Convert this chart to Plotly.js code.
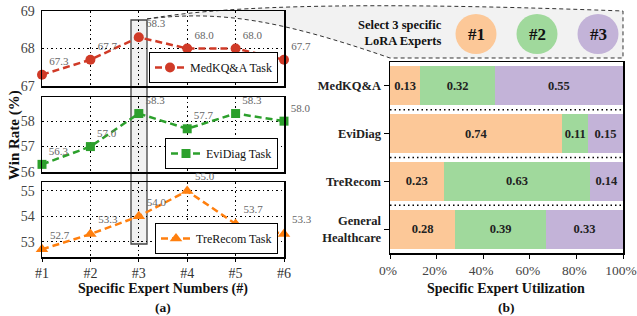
<!DOCTYPE html>
<html><head><meta charset="utf-8">
<script src="https://cdn.plot.ly/plotly-3.0.1.min.js"></script>
<style>html,body{margin:0;padding:0;background:#fff}#chart{width:637px;height:316px}</style>
</head><body><div id="chart"></div>
<script>
// ---- data ----
const experts = ['#1', '#2', '#3', '#4', '#5', '#6'];
const medkqa = [67.3, 67.7, 68.3, 68.0, 68.0, 67.7];
const evidiag = [56.3, 57.0, 58.3, 57.7, 58.3, 58.0];
const trerecom = [52.7, 53.3, 54.0, 55.0, 53.7, 53.3];
const tasks = ['MedKQ&A', 'EviDiag', 'TreRecom', 'General<br>Healthcare'];
const expert1 = [0.13, 0.74, 0.23, 0.28];
const expert2 = [0.32, 0.11, 0.63, 0.39];
const expert3 = [0.55, 0.15, 0.14, 0.33];
const utilTicks = [0, 0.2, 0.4, 0.6, 0.8, 1];
const expertNames = ['#1', '#2', '#3'];

// ---- helpers ----
const W = 637, H = 316;
const px = x => x / W;
const py = y => 1 - y / H;
const F = 'Liberation Serif, Times New Roman, serif';
const dash = '7px,4px';
const gdash = '1.5px,3px';

const lineTrace = (y, name, color, symbol, size, xa, ya, lg) => ({
  x: experts, y: y, name: name, xaxis: xa, yaxis: ya, legend: lg,
  type: 'scatter', mode: 'lines+markers+text', cliponaxis: false,
  text: y.map(v => v.toFixed(1)), textposition: 'top right',
  textfont: {family: F, size: 11, color: '#666'},
  line: {color: color, width: 2.5, dash: dash},
  marker: {symbol: symbol, size: size, color: color}
});

const red = '#d03a27', green = '#2ca02c', orange = '#ff7f0e';
const c1 = '#fcc898', c2 = '#a0d99c', c3 = '#c3b3d8';
const expertColors = [c1, c2, c3];

const barTrace = (vals, color, name) => ({
  type: 'bar', orientation: 'h', y: tasks, x: vals, name: name,
  xaxis: 'x4', yaxis: 'y4', width: 0.82, showlegend: false,
  marker: {color: color, line: {width: 0}},
  text: vals.map(v => v.toFixed(2)), textposition: 'inside',
  insidetextanchor: 'middle', constraintext: 'none', textangle: 0,
  textfont: {family: F, size: 12.5, color: '#222', weight: 'bold'}
});

const data = [
  lineTrace(medkqa, 'MedKQ&A Task', red, 'circle', 10, 'x', 'y', 'legend'),
  lineTrace(evidiag, 'EviDiag Task', green, 'square', 9, 'x2', 'y2', 'legend2'),
  lineTrace(trerecom, 'TreRecom Task', orange, 'triangle-up', 11, 'x3', 'y3', 'legend3'),
  barTrace(expert1, c1, expertNames[0]),
  barTrace(expert2, c2, expertNames[1]),
  barTrace(expert3, c3, expertNames[2])
];

const leftX = (anchor, show) => ({
  domain: [px(42), px(284)], anchor: anchor, type: 'category', range: [0, 5],
  showgrid: true, gridcolor: '#000', gridwidth: 1, griddash: gdash,
  showline: true, mirror: true, linecolor: '#000', linewidth: 1.5,
  zeroline: false, showticklabels: show, ticks: show ? 'outside' : '',
  ticklen: 3, tickcolor: '#000', ticklabeloverflow: 'allow',
  tickfont: {family: F, size: 14, color: '#333'}, fixedrange: true
});
const leftY = (anchor, dom, range, tv) => ({
  domain: dom, anchor: anchor, range: range, tickvals: tv,
  showgrid: true, gridcolor: '#000', gridwidth: 1, griddash: gdash,
  showline: true, mirror: true, linecolor: '#000', linewidth: 1.5,
  zeroline: false, ticks: '', ticklabelstandoff: 3, ticklabeloverflow: 'allow',
  tickfont: {family: F, size: 14, color: '#444'}, fixedrange: true
});

const legendBase = (yb) => ({
  x: px(278), xanchor: 'right', y: py(yb), yanchor: 'bottom',
  bgcolor: '#fff', bordercolor: '#000', borderwidth: 1,
  font: {family: F, size: 12, color: '#111'}, itemwidth: 30
});

const callout = (() => {
  const P = (x, y) => px(x).toFixed(4) + ',' + py(y).toFixed(4);
  return 'M' + P(147, 19) +
    ' C' + P(210, 8) + ' ' + P(330, 0) + ' ' + P(623, 11) +
    ' L' + P(623, 58) + ' L' + P(390, 58) +
    ' C' + P(280, 20) + ' ' + P(220, 10) + ' ' + P(147, 19) + ' Z';
})();

const shapes = [
  {type: 'path', xref: 'paper', yref: 'paper', path: callout, layer: 'below',
   fillcolor: '#f2f2f2', line: {color: '#333', width: 1, dash: '4px,3px'}},
  {type: 'rect', xref: 'paper', yref: 'paper', layer: 'below',
   x0: px(131), x1: px(147), y0: py(244), y1: py(20),
   fillcolor: '#f1f1f1', line: {color: '#444', width: 1.3}}
];
tasks.slice(1).forEach((t, i) => shapes.push({
  type: 'line', xref: 'x4 domain', yref: 'y4', x0: 0, x1: 1, y0: i + 0.5, y1: i + 0.5,
  line: {color: '#000', width: 1.3, dash: gdash}
}));
const circleX = [476, 537, 598];
expertNames.forEach((n, i) => shapes.push({
  type: 'circle', xref: 'paper', yref: 'paper',
  x0: px(circleX[i] - 20.5), x1: px(circleX[i] + 20.5), y0: py(54), y1: py(14),
  fillcolor: expertColors[i], line: {width: 0}
}));

const ann = (x, y, text, size, extra) => Object.assign({
  xref: 'paper', yref: 'paper', x: px(x), y: py(y), text: text, showarrow: false,
  xanchor: 'center', yanchor: 'middle',
  font: {family: F, size: size, color: '#111', weight: 'bold'}
}, extra || {});

const annotations = [
  ann(14, 135, 'Win Rate (%)', 15, {textangle: -90}),
  ann(163, 289, 'Specific Expert Numbers (#)', 14),
  ann(163, 307, '(a)', 13.5),
  ann(506, 288, 'Specific Expert Utilization', 14),
  ann(506, 307, '(b)', 13.5),
  ann(444, 33, 'Select 3 specific<br>LoRA Experts', 12.5, {xanchor: 'right', align: 'right'})
];
expertNames.forEach((n, i) => annotations.push(ann(circleX[i], 34, n, 17)));

const layout = {
  width: W, height: H, margin: {l: 0, r: 0, t: 0, b: 0},
  paper_bgcolor: '#fff', plot_bgcolor: 'rgba(0,0,0,0)',
  font: {family: F, color: '#222'},
  xaxis: leftX('y', false),
  xaxis2: leftX('y2', false),
  xaxis3: leftX('y3', true),
  yaxis: leftY('x', [py(86), py(11)], [67, 69], [67, 68, 69]),
  yaxis2: leftY('x2', [py(172), py(97)], [56, 58.95], [56, 57, 58]),
  yaxis3: leftY('x3', [py(257), py(182)], [52.4, 55.35], [53, 54, 55]),
  xaxis4: {
    domain: [px(390), px(623)], anchor: 'y4', range: [0, 1], tickvals: utilTicks,
    tickformat: '.0%', showgrid: false, zeroline: false,
    showline: true, mirror: true, linecolor: '#000', linewidth: 1.5,
    ticks: 'outside', ticklen: 4, tickcolor: '#000', ticklabeloverflow: 'allow',
    ticklabelshift: -2,
    tickfont: {family: F, size: 13.5, color: '#444'}, fixedrange: true
  },
  yaxis4: {
    domain: [py(253), py(62)], anchor: 'x4', type: 'category',
    categoryorder: 'array', categoryarray: tasks, range: [3.5, -0.5],
    showgrid: false, zeroline: false,
    showline: true, mirror: true, linecolor: '#000', linewidth: 1.5,
    ticks: 'outside', ticklen: 5, tickcolor: '#000',
    tickfont: {family: F, size: 12.5, color: '#222', weight: 'bold'}, fixedrange: true
  },
  barmode: 'stack', bargap: 0,
  legend: legendBase(83),
  legend2: legendBase(169),
  legend3: legendBase(254),
  shapes: shapes,
  annotations: annotations
};

Plotly.newPlot('chart', data, layout, {staticPlot: true, displayModeBar: false});
</script>
</body></html>
